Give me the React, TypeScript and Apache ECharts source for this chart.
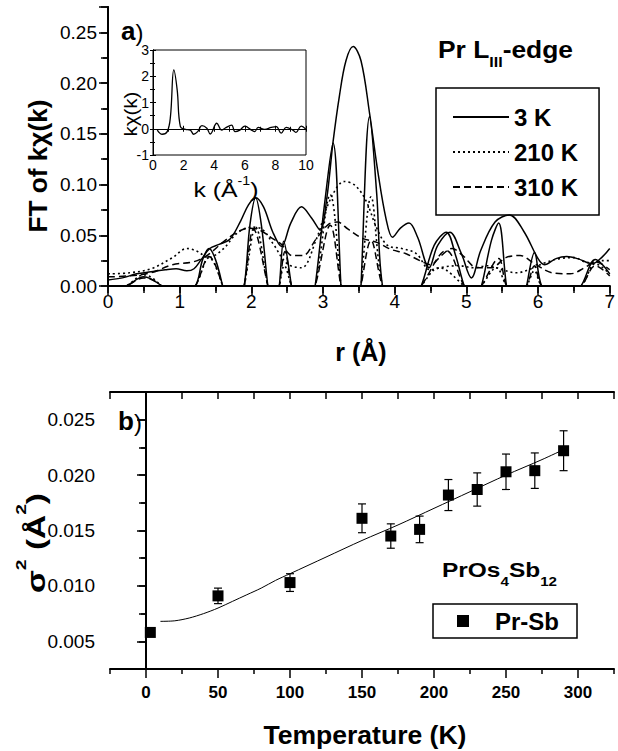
import React, { useEffect, useRef } from 'react';
import * as echarts from 'echarts';

const FONT = '"Liberation Sans", Arial, Helvetica, sans-serif';

// ---------- Panel a) : FT of k·chi(k) versus r (Å) ----------
const mag3K: number[][] = [
  [0, 0.006], [0.2, 0.008], [0.4, 0.012], [0.6, 0.014], [0.8, 0.016], [0.95, 0.017], [1.1, 0.015],
  [1.2, 0.017], [1.3, 0.026], [1.42, 0.037], [1.55, 0.041], [1.7, 0.046], [1.85, 0.064], [1.96, 0.08],
  [2.06, 0.087], [2.17, 0.078], [2.3, 0.053], [2.42, 0.039], [2.55, 0.062], [2.7, 0.078], [2.84, 0.067],
  [2.96, 0.055], [3.05, 0.085], [3.14, 0.142], [3.23, 0.188], [3.32, 0.222], [3.42, 0.236], [3.53, 0.222],
  [3.65, 0.17], [3.76, 0.115], [3.88, 0.066], [3.97, 0.048], [4.08, 0.057], [4.2, 0.062], [4.32, 0.048],
  [4.48, 0.018], [4.6, 0.04], [4.77, 0.053], [4.93, 0.032], [5.07, 0.008], [5.2, 0.035], [5.4, 0.063],
  [5.6, 0.07], [5.8, 0.054], [6.0, 0.027], [6.09, 0.021], [6.25, 0.027], [6.4, 0.029], [6.55, 0.027],
  [6.76, 0.022], [6.9, 0.029], [7.0, 0.037],
];
const real3K: number[][] = [
  [0, -0.004], [0.25, 0], [0.5, 0.009], [0.75, 0], [0.98, -0.015], [1.22, 0], [1.32, 0.026], [1.41, 0.037],
  [1.5, 0.026], [1.6, 0], [1.75, -0.045], [1.9, 0], [1.98, 0.06], [2.06, 0.087], [2.14, 0.06], [2.23, 0],
  [2.31, -0.04], [2.39, 0], [2.45, 0.044], [2.56, 0], [2.72, -0.075], [2.89, 0], [3.02, 0.08], [3.14, 0.141],
  [3.25, 0], [3.4, -0.2], [3.53, 0], [3.65, 0.167], [3.75, 0.09], [3.83, 0], [4.05, -0.05], [4.37, 0],
  [4.55, 0.04], [4.72, 0.053], [4.85, 0.03], [4.97, 0], [5.1, -0.02], [5.21, 0], [5.35, 0.045], [5.45, 0.062],
  [5.56, 0], [5.7, -0.05], [5.84, 0], [5.95, 0.033], [6.05, 0], [6.3, -0.025], [6.6, 0], [6.8, 0.026], [7.0, 0.012],
];
const mag210K: number[][] = [
  [0, 0.012], [0.3, 0.013], [0.6, 0.017], [0.9, 0.028], [1.1, 0.037], [1.25, 0.034], [1.4, 0.028],
  [1.6, 0.036], [1.8, 0.052], [2.0, 0.058], [2.15, 0.056], [2.3, 0.042], [2.5, 0.022], [2.7, 0.018],
  [2.9, 0.045], [3.1, 0.085], [3.3, 0.103], [3.45, 0.099], [3.6, 0.084], [3.75, 0.057], [3.9, 0.04],
  [4.1, 0.037], [4.3, 0.032], [4.5, 0.016], [4.7, 0.019], [4.9, 0.02], [5.1, 0.018], [5.3, 0.02],
  [5.5, 0.016], [5.7, 0.013], [5.9, 0.017], [6.1, 0.023], [6.3, 0.027], [6.5, 0.028], [6.7, 0.023],
  [6.9, 0.025], [7.0, 0.025],
];
const real210K: number[][] = [
  [0, -0.004], [0.25, 0], [0.5, 0.011], [0.75, 0], [0.98, -0.02], [1.22, 0], [1.41, 0.028], [1.6, 0],
  [1.75, -0.04], [1.9, 0], [2.06, 0.058], [2.23, 0], [2.31, -0.03], [2.39, 0], [2.46, 0.02], [2.56, 0],
  [2.72, -0.03], [2.89, 0], [3.1, 0.09], [3.25, 0], [3.4, -0.1], [3.53, 0], [3.67, 0.088], [3.83, 0],
  [4.05, -0.03], [4.37, 0], [4.62, 0.018], [4.97, 0], [5.1, -0.01], [5.21, 0], [5.42, 0.018], [5.56, 0],
  [5.7, -0.01], [5.84, 0], [5.95, 0.015], [6.05, 0], [6.3, -0.01], [6.6, 0], [6.8, 0.022], [7.0, 0.012],
];
const mag310K: number[][] = [
  [0, 0.009], [0.3, 0.01], [0.6, 0.013], [0.9, 0.021], [1.2, 0.024], [1.4, 0.031], [1.6, 0.043],
  [1.8, 0.053], [1.97, 0.057], [2.12, 0.055], [2.27, 0.048], [2.42, 0.041], [2.57, 0.03], [2.72, 0.03],
  [2.9, 0.046], [3.08, 0.061], [3.2, 0.063], [3.35, 0.056], [3.55, 0.047], [3.75, 0.043], [3.95, 0.036],
  [4.15, 0.032], [4.35, 0.025], [4.5, 0.021], [4.65, 0.03], [4.8, 0.037], [4.95, 0.03], [5.15, 0.018],
  [5.35, 0.018], [5.55, 0.028], [5.75, 0.03], [5.95, 0.022], [6.2, 0.013], [6.45, 0.012], [6.65, 0.018],
  [6.8, 0.024], [7.0, 0.016],
];
const real310K: number[][] = [
  [0, -0.004], [0.25, 0], [0.5, 0.008], [0.75, 0], [0.98, -0.02], [1.22, 0], [1.41, 0.029], [1.6, 0],
  [1.75, -0.04], [1.9, 0], [2.03, 0.056], [2.23, 0], [2.31, -0.03], [2.39, 0], [2.47, 0.034], [2.56, 0],
  [2.72, -0.03], [2.89, 0], [3.1, 0.06], [3.25, 0], [3.4, -0.05], [3.53, 0], [3.67, 0.045], [3.83, 0],
  [4.05, -0.03], [4.37, 0], [4.72, 0.035], [4.97, 0], [5.1, -0.01], [5.21, 0], [5.45, 0.027], [5.56, 0],
  [5.7, -0.01], [5.84, 0], [5.95, 0.02], [6.05, 0], [6.3, -0.01], [6.6, 0], [6.8, 0.02], [7.0, 0.01],
];

// inset: k·chi(k) versus k
const insetChi: number[][] = [
  [0.28, -0.05], [0.6, -0.21], [0.93, -0.11], [1.14, 0.46], [1.36, 2.24], [1.58, 1.48], [1.79, 0.08],
  [2.12, -0.02], [2.44, -0.05], [2.66, -0.21], [2.92, -0.11], [3.2, 0.12], [3.52, 0.02], [3.74, -0.2],
  [4.17, 0.21], [4.49, -0.05], [4.7, 0.02], [5.14, 0.14], [5.36, -0.11], [5.68, -0.05], [6.0, 0.1],
  [6.44, -0.05], [6.65, -0.11], [6.87, 0.05], [7.3, -0.02], [7.73, 0.05], [8.06, 0.08], [8.38, -0.17],
  [8.7, 0.05], [9.14, -0.05], [9.35, -0.14], [9.68, 0.1], [10.0, -0.02],
];

// ---------- Panel b) : sigma^2 versus temperature ----------
const temps = [3, 50, 100, 150, 170, 190, 210, 230, 250, 270, 290];
const sigma2 = [0.0058, 0.0091, 0.0103, 0.0161, 0.0145, 0.0151, 0.0182, 0.0187, 0.0203, 0.0204, 0.0222];
const sigmaErr = [0.0003, 0.0007, 0.0008, 0.0013, 0.0011, 0.0012, 0.0014, 0.0015, 0.0016, 0.0016, 0.0018];
const fitT = [10, 20, 30, 40, 50, 60, 70, 80, 90, 100, 125, 150, 175, 200, 225, 250, 275, 290];
const fitSigma = [0.0068, 0.00685, 0.0071, 0.0075, 0.008, 0.0086, 0.0092, 0.0098, 0.0105, 0.0111, 0.0126,
  0.0141, 0.0155, 0.017, 0.0185, 0.02, 0.0214, 0.0223];

const tempMajor = [0, 50, 100, 150, 200, 250, 300];
const tempMinor = [-25, 25, 75, 125, 175, 225, 275, 325];
const sigMajor = [0.005, 0.01, 0.015, 0.02, 0.025];
const sigMinor = [0.0025, 0.0075, 0.0125, 0.0175, 0.0225, 0.0275];

const legendTop = ['3 K', '210 K', '310 K'];

// ---------- text helpers ----------
let measureCtx: CanvasRenderingContext2D | null = null;
function fontStr(size: number, bold?: boolean) {
  return `${bold ? 'bold' : 'normal'} ${size}px ${FONT}`;
}
function measure(t: string, size: number, bold?: boolean) {
  if (!measureCtx) measureCtx = document.createElement('canvas').getContext('2d');
  if (!measureCtx) return t.length * size * 0.55;
  measureCtx.font = fontStr(size, bold);
  return measureCtx.measureText(t).width;
}
type Part = { t: string; size: number; bold?: boolean; dy?: number };
function textRow(parts: Part[], x: number, y: number, opts: { rotation?: number; anchor?: 'left' | 'center'; target?: number } = {}) {
  const ws = parts.map((p) => measure(p.t, p.size, p.bold));
  const total = ws.reduce((a, b) => a + b, 0);
  const sx = opts.target ? opts.target / total : 1;
  let cur = opts.anchor === 'left' ? 0 : -total / 2;
  const children = parts.map((p, i) => {
    const el = {
      type: 'text',
      x: cur,
      y: p.dy || 0,
      style: { text: p.t, font: fontStr(p.size, p.bold), fill: '#000', align: 'left', verticalAlign: 'middle' },
    };
    cur += ws[i];
    return el;
  });
  return { type: 'group', x, y, rotation: opts.rotation || 0, scaleX: sx, children };
}

const AXIS_LINE = { lineStyle: { color: '#000', width: 2 } };

function buildOption(): any {
  const errData = temps.map((t, i) => [t, sigma2[i] - sigmaErr[i], sigma2[i] + sigmaErr[i]]);
  const fitData = fitT.map((t, i) => [t, fitSigma[i]]);
  const ptData = temps.map((t, i) => [t, sigma2[i]]);

  const lineSeries = (name: string, data: number[][], type: any, width: number) => ({
    name,
    type: 'line',
    xAxisIndex: 0,
    yAxisIndex: 0,
    data,
    symbol: 'none',
    showSymbol: false,
    smooth: 0.35,
    clip: true,
    lineStyle: { color: '#000', width, type },
    itemStyle: { color: '#000', opacity: 0 },
  });

  return {
    animation: false,
    backgroundColor: '#fff',
    grid: [
      { left: 108, top: 7, width: 506, height: 279 },
      { left: 110, top: 392, width: 504, height: 277 },
      { left: 153, top: 50, width: 153, height: 105, show: true, backgroundColor: '#fff', borderColor: '#000', borderWidth: 1 },
    ],
    xAxis: [
      {
        gridIndex: 0, type: 'value', position: 'bottom', min: 0, max: 7, interval: 1,
        axisLine: AXIS_LINE,
        axisTick: { inside: false, length: 9, lineStyle: { width: 1.5, color: '#000' } },
        minorTick: { show: true, splitNumber: 2, length: 5, lineStyle: { width: 1.5, color: '#000' } },
        axisLabel: { margin: 6, fontSize: 19, fontFamily: FONT, color: '#000' },
        splitLine: { show: false }, minorSplitLine: { show: false },
      },
      {
        gridIndex: 0, type: 'value', position: 'top', min: 0, max: 7, interval: 0.5,
        axisLine: AXIS_LINE,
        axisTick: { inside: true, length: 7, lineStyle: { width: 1.5, color: '#000' } },
        axisLabel: { show: false }, splitLine: { show: false },
      },
      {
        gridIndex: 1, type: 'value', position: 'bottom', min: -25, max: 325, interval: 25,
        axisLine: AXIS_LINE,
        axisTick: { inside: false, length: 9, customValues: tempMajor, lineStyle: { width: 1.5, color: '#000' } },
        axisLabel: { customValues: tempMajor, margin: 15, fontSize: 17, fontWeight: 'bold', fontFamily: FONT, color: '#000' },
        splitLine: { show: false },
      },
      {
        gridIndex: 1, type: 'value', position: 'bottom', min: -25, max: 325, interval: 25,
        axisLine: { show: false },
        axisTick: { inside: false, length: 5, customValues: tempMinor, lineStyle: { width: 1.5, color: '#000' } },
        axisLabel: { show: false }, splitLine: { show: false },
      },
      {
        gridIndex: 1, type: 'value', position: 'top', min: -25, max: 325, interval: 25,
        axisLine: AXIS_LINE,
        axisTick: { inside: true, length: 7, lineStyle: { width: 1.5, color: '#000' } },
        axisLabel: { show: false }, splitLine: { show: false },
      },
      {
        gridIndex: 2, type: 'value', position: 'bottom', min: 0, max: 10, interval: 2,
        axisLine: { lineStyle: { color: '#000', width: 1 } },
        axisTick: { inside: true, length: 3, lineStyle: { width: 1, color: '#000' } },
        minorTick: { show: true, splitNumber: 2, length: 2, lineStyle: { width: 1, color: '#000' } },
        axisLabel: { margin: 3, fontSize: 14, fontFamily: FONT, color: '#000' },
        splitLine: { show: false }, minorSplitLine: { show: false },
      },
      {
        gridIndex: 2, type: 'value', position: 'top', min: 0, max: 10, interval: 1,
        axisLine: { lineStyle: { color: '#000', width: 1 } },
        axisTick: { inside: true, length: 3, lineStyle: { width: 1, color: '#000' } },
        axisLabel: { show: false }, splitLine: { show: false },
      },
    ],
    yAxis: [
      {
        gridIndex: 0, type: 'value', position: 'left', min: 0, max: 0.275, interval: 0.05,
        axisLine: AXIS_LINE,
        axisTick: { inside: false, length: 9, lineStyle: { width: 1.5, color: '#000' } },
        minorTick: { show: true, splitNumber: 2, length: 5, lineStyle: { width: 1.5, color: '#000' } },
        axisLabel: {
          margin: 11, fontSize: 19, fontFamily: FONT, color: '#000', showMaxLabel: false,
          formatter: (v: number) => v.toFixed(2),
        },
        splitLine: { show: false }, minorSplitLine: { show: false },
      },
      {
        gridIndex: 0, type: 'value', position: 'right', min: 0, max: 0.275, interval: 0.025,
        axisLine: AXIS_LINE,
        axisTick: { inside: true, length: 7, lineStyle: { width: 1.5, color: '#000' } },
        axisLabel: { show: false }, splitLine: { show: false },
      },
      {
        gridIndex: 1, type: 'value', position: 'left', min: 0.0025, max: 0.0275, interval: 0.0025,
        axisLine: AXIS_LINE,
        axisTick: { inside: false, length: 9, customValues: sigMajor, lineStyle: { width: 1.5, color: '#000' } },
        axisLabel: { customValues: sigMajor, margin: 15, fontSize: 19, fontFamily: FONT, color: '#000', formatter: (v: number) => v.toFixed(3) },
        splitLine: { show: false },
      },
      {
        gridIndex: 1, type: 'value', position: 'left', min: 0.0025, max: 0.0275, interval: 0.0025,
        axisLine: { show: false },
        axisTick: { inside: false, length: 5, customValues: sigMinor, lineStyle: { width: 1.5, color: '#000' } },
        axisLabel: { show: false }, splitLine: { show: false },
      },
      {
        gridIndex: 1, type: 'value', position: 'right', min: 0.0025, max: 0.0275, interval: 0.0025,
        axisLine: AXIS_LINE,
        axisTick: { inside: true, length: 7, lineStyle: { width: 1.5, color: '#000' } },
        axisLabel: { show: false }, splitLine: { show: false },
      },
      {
        gridIndex: 2, type: 'value', position: 'left', min: -1, max: 3, interval: 1,
        axisLine: { lineStyle: { color: '#000', width: 1 } },
        axisTick: { inside: true, length: 3, lineStyle: { width: 1, color: '#000' } },
        minorTick: { show: true, splitNumber: 2, length: 2, lineStyle: { width: 1, color: '#000' } },
        axisLabel: { margin: 4, fontSize: 14, fontFamily: FONT, color: '#000' },
        splitLine: { show: false }, minorSplitLine: { show: false },
      },
      {
        gridIndex: 2, type: 'value', position: 'right', min: -1, max: 3, interval: 0.5,
        axisLine: { lineStyle: { color: '#000', width: 1 } },
        axisTick: { inside: true, length: 3, lineStyle: { width: 1, color: '#000' } },
        axisLabel: { show: false }, splitLine: { show: false },
      },
    ],
    legend: [
      {
        data: legendTop,
        orient: 'vertical',
        left: 436,
        top: 88,
        padding: [17, 21, 16, 16],
        itemWidth: 56,
        itemHeight: 20,
        itemGap: 11,
        selectedMode: false,
        borderColor: '#000',
        borderWidth: 1.5,
        itemStyle: { opacity: 0 },
        textStyle: { fontSize: 24, fontWeight: 'bold', fontFamily: FONT, color: '#000', lineHeight: 20 },
      },
      {
        data: ['Pr-Sb'],
        orient: 'vertical',
        left: 433,
        top: 604,
        padding: [5, 18, 5, 24],
        icon: 'rect',
        itemWidth: 12,
        itemHeight: 12,
        selectedMode: false,
        borderColor: '#000',
        borderWidth: 1.5,
        itemStyle: { color: '#000', opacity: 1 },
        formatter: (name: string) => '{g| }' + name,
        textStyle: {
          fontSize: 24, fontWeight: 'bold', fontFamily: FONT, color: '#000', lineHeight: 24,
          rich: { g: { width: 21 } },
        },
      },
    ],
    series: [
      lineSeries('3 K', mag3K, 'solid', 1.5),
      lineSeries('3 K', real3K, 'solid', 1.5),
      lineSeries('210 K', mag210K, [2, 3], 1.6),
      lineSeries('210 K', real210K, [2, 3], 1.6),
      lineSeries('310 K', mag310K, [7, 4], 1.5),
      lineSeries('310 K', real310K, [7, 4], 1.5),
      {
        name: 'inset',
        type: 'line',
        xAxisIndex: 5,
        yAxisIndex: 5,
        data: insetChi,
        symbol: 'none',
        smooth: 0.4,
        lineStyle: { color: '#000', width: 1.3 },
      },
      {
        name: 'fit',
        type: 'line',
        xAxisIndex: 2,
        yAxisIndex: 2,
        data: fitData,
        symbol: 'none',
        smooth: 0.3,
        lineStyle: { color: '#000', width: 1 },
        z: 4,
      },
      {
        name: 'errors',
        type: 'custom',
        xAxisIndex: 2,
        yAxisIndex: 2,
        data: errData,
        encode: { x: 0, y: [1, 2] },
        renderItem: (_p: any, api: any) => {
          const t = api.value(0);
          const lo = api.coord([t, api.value(1)]);
          const hi = api.coord([t, api.value(2)]);
          const w = 4;
          const st = { stroke: '#000', lineWidth: 1.2 };
          return {
            type: 'group',
            children: [
              { type: 'line', shape: { x1: lo[0], y1: lo[1], x2: hi[0], y2: hi[1] }, style: st },
              { type: 'line', shape: { x1: lo[0] - w, y1: lo[1], x2: lo[0] + w, y2: lo[1] }, style: st },
              { type: 'line', shape: { x1: hi[0] - w, y1: hi[1], x2: hi[0] + w, y2: hi[1] }, style: st },
            ],
          };
        },
        z: 3,
      },
      {
        name: 'Pr-Sb',
        type: 'scatter',
        xAxisIndex: 2,
        yAxisIndex: 2,
        data: ptData,
        symbol: 'rect',
        symbolSize: 11,
        itemStyle: { color: '#000', opacity: 1 },
        z: 5,
      },
    ],
    graphic: [
      textRow([{ t: 'FT of kχ(k)', size: 26, bold: true }], 38, 166, { rotation: Math.PI / 2, target: 133 }),
      textRow([{ t: 'r (Å)', size: 25, bold: true }], 361, 352, {}),
      textRow([{ t: 'a', size: 26, bold: true }, { t: ')', size: 24, dy: 1 }], 121, 31, { anchor: 'left' }),
      textRow(
        [{ t: 'Pr L', size: 23, bold: true }, { t: 'III', size: 14, bold: true, dy: 12 }, { t: '-edge', size: 23, bold: true }],
        438, 50, { anchor: 'left', target: 135 },
      ),
      textRow([{ t: 'kχ(k)', size: 19 }], 130, 114, { rotation: Math.PI / 2, target: 45 }),
      textRow([{ t: 'k (Å', size: 21 }, { t: '-1', size: 12, dy: -9 }, { t: ')', size: 21 }], 226, 190, { target: 65 }),
      textRow([{ t: 'b', size: 26, bold: true }, { t: ')', size: 24, dy: 1 }], 118, 421, { anchor: 'left' }),
      textRow(
        [
          { t: 'σ', size: 26, bold: true }, { t: '2', size: 15, bold: true, dy: -15 },
          { t: ' (Å', size: 26, bold: true }, { t: '2', size: 15, bold: true, dy: -15 }, { t: ')', size: 26, bold: true },
        ],
        36, 543, { rotation: Math.PI / 2, target: 100 },
      ),
      textRow(
        [
          { t: 'PrOs', size: 21, bold: true }, { t: '4', size: 13, bold: true, dy: 11 },
          { t: 'Sb', size: 21, bold: true }, { t: '12', size: 13, bold: true, dy: 11 },
        ],
        442, 570, { anchor: 'left', target: 115 },
      ),
      textRow([{ t: 'Temperature (K)', size: 25, bold: true }], 365, 735, { target: 203 }),
    ],
  };
}

export default function App() {
  const ref = useRef<HTMLDivElement>(null);
  useEffect(() => {
    if (!ref.current) return;
    const chart = echarts.init(ref.current, null, { renderer: 'svg' });
    chart.setOption(buildOption());
    return () => chart.dispose();
  }, []);
  return (
    <div
      ref={ref}
      style={{ position: 'fixed', left: 0, top: 0, width: 618, height: 751, background: '#fff' }}
    />
  );
}
